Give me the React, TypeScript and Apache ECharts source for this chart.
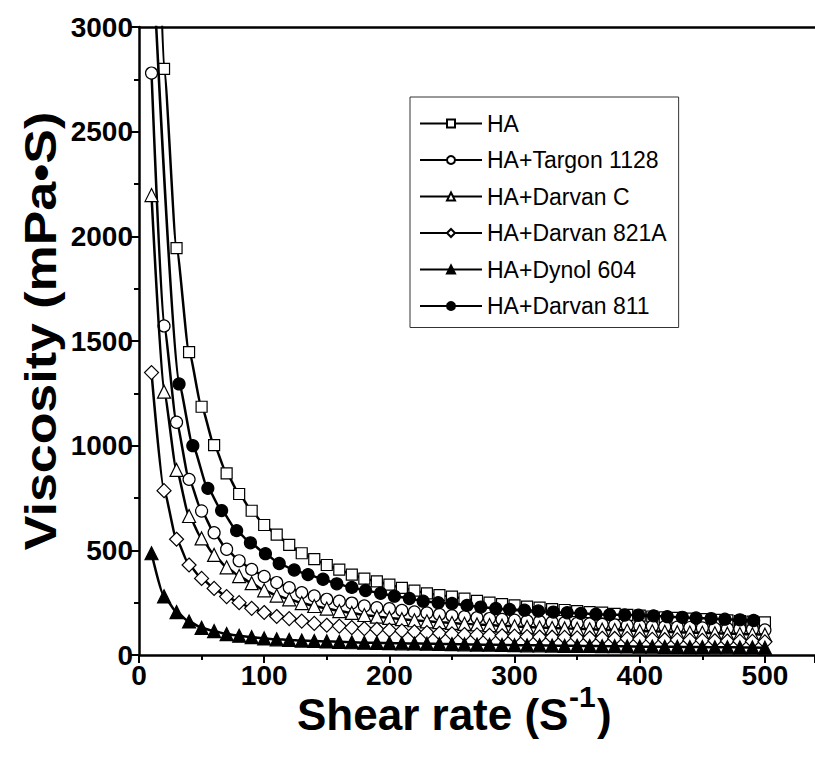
import React, { useEffect, useRef } from "react";
import * as echarts from "echarts";

// Shear rate (1/s) for the first five series
const shearRate = [10, 20, 30, 40, 50, 60, 70, 80, 90, 100, 110, 120, 130, 140, 150, 160, 170, 180, 190, 200, 210, 220, 230, 240, 250, 260, 270, 280, 290, 300, 310, 320, 330, 340, 350, 360, 370, 380, 390, 400, 410, 420, 430, 440, 450, 460, 470, 480, 490, 500];
// Shear rate sampling of the HA+Darvan 811 series
const shearRate811 = [10, 32, 43, 55, 66, 78, 89, 101, 112, 124, 135, 147, 158, 170, 181, 193, 204, 216, 227, 239, 250, 262, 273, 285, 296, 308, 319, 331, 342, 353, 365, 376, 388, 399, 411, 422, 434, 445, 457, 468, 480, 491];

const visHA = [5000, 2800, 1944, 1447, 1186, 1003, 868, 769, 689, 621, 575, 526, 486, 458, 430, 408, 384, 365, 352, 336, 321, 308, 294, 286, 279, 269, 259, 250, 243, 237, 231, 226, 219, 215, 210, 205, 202, 196, 192, 188, 184, 180, 177, 174, 171, 168, 165, 162, 159, 156];
const visTargon = [2780, 1572, 1112, 839, 688, 584, 505, 450, 409, 375, 346, 322, 298, 282, 266, 257, 248, 234, 226, 221, 213, 206, 201, 194, 188, 183, 178, 174, 170, 166, 163, 160, 157, 154, 151, 148, 146, 144, 141, 139, 137, 135, 133, 131, 129, 127, 126, 124, 122, 120];
const visDarvanC = [2197, 1258, 884, 664, 557, 478, 419, 377, 343, 309, 284, 266, 248, 234, 222, 210, 201, 191, 183, 177, 171, 166, 161, 157, 153, 149, 146, 143, 140, 137, 134, 131, 129, 127, 125, 123, 121, 119, 117, 115, 113, 111, 109, 107, 106, 104, 102, 100, 99, 97];
const vis821A = [1349, 785, 553, 430, 366, 318, 279, 250, 223, 203, 184, 174, 162, 151, 142, 138, 131, 126, 123, 119, 115, 111, 107, 104, 101, 98, 96, 94, 92, 90, 88, 86, 85, 84, 82, 81, 80, 79, 78, 76, 75, 73, 72, 71, 70, 68, 67, 66, 65, 63];
const visDynol = [486, 280, 205, 160, 130, 114, 100, 92, 85, 79, 75, 72, 69, 67, 65, 63, 61, 59, 58, 57, 56, 55, 54, 53, 52, 51, 50, 49, 48, 47, 46, 46, 45, 44, 44, 43, 42, 42, 41, 40, 40, 39, 39, 38, 38, 37, 37, 36, 36, 35];
const vis811 = [3450, 1295, 1000, 796, 690, 594, 536, 484, 437, 406, 384, 362, 340, 323, 308, 295, 281, 270, 257, 250, 246, 237, 229, 222, 218, 214, 210, 205, 202, 199, 195, 193, 191, 190, 187, 183, 180, 177, 174, 171, 168, 165];

const seriesNames = ["HA", "HA+Targon 1128", "HA+Darvan C", "HA+Darvan 821A", "HA+Dynol 604", "HA+Darvan 811"];

const FONT = "'Liberation Sans', Arial, Helvetica, sans-serif";

function makeSeries(name: string, xs: number[], ys: number[], symbol: string, size: number, filled: boolean, z: number) {
  return {
    type: "line",
    name,
    data: xs.map((x, i) => [x, ys[i]]),
    symbol,
    symbolSize: size,
    showSymbol: true,
    showAllSymbol: true,
    clip: true,
    smooth: 0.2,
    smoothMonotone: "x",
    z,
    itemStyle: { color: filled ? "#000" : "#fff", borderColor: "#000", borderWidth: 1.2, opacity: 1 },
    lineStyle: { color: "#000", width: 2.5 },
    emphasis: { disabled: true },
  };
}

export default function App() {
  const ref = useRef<HTMLDivElement>(null);
  useEffect(() => {
    if (!ref.current) return;
    const chart = echarts.init(ref.current, undefined, { renderer: "svg" });
    const axisCommon = {
      type: "value",
      axisLine: { show: true, lineStyle: { color: "#000", width: 2.5 } },
      axisTick: { show: true, inside: false, length: 8, lineStyle: { color: "#000", width: 2 } },
      minorTick: { show: true, splitNumber: 2, length: 5, lineStyle: { color: "#000", width: 2 } },
      splitLine: { show: false },
      minorSplitLine: { show: false },
    };
    const titleText = (text: string, x: number, y: number, size: number, lh: number) => ({
      type: "text",
      x,
      y,
      style: {
        text,
        fontFamily: FONT,
        fontWeight: "bold",
        fontSize: size,
        lineHeight: lh,
        fill: "#000",
        textAlign: "left",
        textVerticalAlign: "middle",
      },
    });
    chart.setOption({
      animation: false,
      backgroundColor: "#fff",
      grid: { left: 139, top: 27, right: 0, bottom: 108, containLabel: false, outerBoundsMode: "none" },
      xAxis: [
        {
          ...axisCommon,
          min: 0,
          max: 540,
          interval: 100,
          axisLabel: {
            color: "#000",
            fontFamily: FONT,
            fontWeight: "bold",
            fontSize: 28,
            lineHeight: 28,
            margin: 6,
            formatter: (v: number) => (v <= 500 ? String(v) : ""),
          },
        },
        {
          type: "value",
          position: "top",
          min: 0,
          max: 540,
          axisLine: { show: true, lineStyle: { color: "#000", width: 2.5 } },
          axisTick: { show: false },
          axisLabel: { show: false },
          splitLine: { show: false },
        },
      ],
      yAxis: {
        ...axisCommon,
        min: 0,
        max: 3000,
        interval: 500,
        axisLabel: {
          color: "#000",
          fontFamily: FONT,
          fontWeight: "bold",
          fontSize: 28,
          margin: 6,
          formatter: (v: number) => String(v),
        },
      },
      legend: {
        show: true,
        orient: "vertical",
        left: 410,
        top: 97,
        padding: [15, 12, 10, 9],
        itemGap: 13.5,
        itemWidth: 62,
        itemHeight: 10,
        borderColor: "#333",
        borderWidth: 1,
        backgroundColor: "#fff",
        data: seriesNames,
        textStyle: { color: "#000", fontFamily: FONT, fontSize: 23, lineHeight: 23 },
      },
      graphic: [
        {
          type: "text",
          x: 40,
          y: 331,
          rotation: Math.PI / 2,
          scaleX: 1.18,
          style: {
            text: "Viscosity (mPa•S)",
            fontFamily: FONT,
            fontWeight: "bold",
            fontSize: 44,
            lineHeight: 44,
            fill: "#000",
            textAlign: "center",
            textVerticalAlign: "middle",
          },
        },
        titleText("Shear rate (S", 297, 714, 44, 38),
        titleText("-1", 569, 696, 30, 30),
        titleText(")", 597, 714, 44, 38),
      ],
      series: [
        makeSeries(seriesNames[0], shearRate, visHA, "rect", 11, false, 2),
        makeSeries(seriesNames[1], shearRate, visTargon, "circle", 12, false, 3),
        makeSeries(seriesNames[2], shearRate, visDarvanC, "triangle", 13, false, 4),
        makeSeries(seriesNames[3], shearRate, vis821A, "diamond", 14, false, 5),
        makeSeries(seriesNames[4], shearRate, visDynol, "triangle", 13, true, 6),
        makeSeries(seriesNames[5], shearRate811, vis811, "circle", 12, true, 7),
      ],
    });
    return () => chart.dispose();
  }, []);
  return <div ref={ref} style={{ position: "fixed", left: 0, top: 0, width: 815, height: 763 }} />;
}
